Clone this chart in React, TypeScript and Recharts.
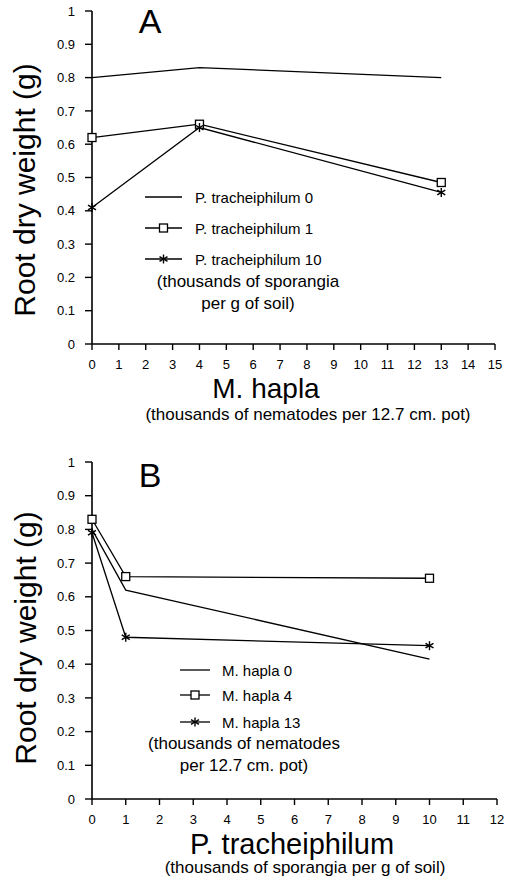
import React from 'react';
import { LineChart, Line, XAxis, YAxis, Legend, Label } from 'recharts';

// ---- Panel A data: x = M. hapla (thousands of nematodes per pot)
const mHaplaLevels = [0, 4, 13];
const ptr0 = [0.8, 0.83, 0.8];
const ptr1 = [0.62, 0.66, 0.485];
const ptr10 = [0.41, 0.65, 0.455];

// ---- Panel B data: x = P. tracheiphilum (thousands of sporangia per g soil)
const ptrLevels = [0, 1, 10];
const mh0 = [0.8, 0.62, 0.415];
const mh4 = [0.83, 0.66, 0.655];
const mh13 = [0.79, 0.48, 0.455];

const yTicks = [0, 0.1, 0.2, 0.3, 0.4, 0.5, 0.6, 0.7, 0.8, 0.9, 1];
const xTicksA = [0, 1, 2, 3, 4, 5, 6, 7, 8, 9, 10, 11, 12, 13, 14, 15];
const xTicksB = [0, 1, 2, 3, 4, 5, 6, 7, 8, 9, 10, 11, 12];

const legendA = ['P. tracheiphilum 0', 'P. tracheiphilum 1', 'P. tracheiphilum 10'];
const legendNoteA = ['(thousands of sporangia', 'per g of soil)'];
const legendB = ['M. hapla 0', 'M. hapla 4', 'M. hapla 13'];
const legendNoteB = ['(thousands of nematodes', 'per 12.7 cm. pot)'];

const dataA = mHaplaLevels.map((x, i) => ({ x, s0: ptr0[i], s1: ptr1[i], s10: ptr10[i] }));
const dataB = ptrLevels.map((x, i) => ({ x, s0: mh0[i], s4: mh4[i], s13: mh13[i] }));

const FONT = "'Liberation Sans', Arial, Helvetica, sans-serif";
const INK = '#000';

function SquareMark({ cx, cy }: { cx: number; cy: number }) {
  return <rect x={cx - 4} y={cy - 4} width={8} height={8} fill="#fff" stroke={INK} strokeWidth={1.3} />;
}
function StarMark({ cx, cy }: { cx: number; cy: number }) {
  return (
    <g stroke={INK} strokeWidth={1.4}>
      <line x1={cx} y1={cy - 4.5} x2={cx} y2={cy + 4.5} />
      <line x1={cx - 4} y1={cy - 2.3} x2={cx + 4} y2={cy + 2.3} />
      <line x1={cx - 4} y1={cy + 2.3} x2={cx + 4} y2={cy - 2.3} />
    </g>
  );
}

const squareDot = (p: any) => (
  <g key={`sq-${p.index}`}>
    <SquareMark cx={p.cx} cy={p.cy} />
  </g>
);
const starDot = (p: any) => (
  <g key={`st-${p.index}`}>
    <StarMark cx={p.cx} cy={p.cy} />
  </g>
);

type LegendSpec = {
  labels: string[];
  notes: string[];
  rowY: number[];
  x1: number;
  x2: number;
  tx: number;
  noteCx: number;
  noteY: number[];
};

function makeLegend(spec: LegendSpec) {
  return () => (
    <div style={{ position: 'relative', width: 0, height: 0, fontFamily: FONT, color: INK }}>
      {spec.labels.map((lab, i) => {
        const mid = (spec.x1 + spec.x2) / 2 - spec.x1 + 2;
        return (
          <React.Fragment key={lab}>
            <svg
              width={spec.x2 - spec.x1 + 4}
              height={16}
              style={{ position: 'absolute', left: spec.x1 - 2, top: spec.rowY[i] - 8, overflow: 'visible' }}
            >
              <line x1={2} y1={8} x2={spec.x2 - spec.x1 + 2} y2={8} stroke={INK} strokeWidth={1.3} />
              {i === 1 && <SquareMark cx={mid} cy={8} />}
              {i === 2 && <StarMark cx={mid} cy={8} />}
            </svg>
            <span
              style={{
                position: 'absolute',
                left: spec.tx,
                top: spec.rowY[i] - 7.5,
                fontSize: 15,
                lineHeight: '15px',
                whiteSpace: 'nowrap',
              }}
            >
              {lab}
            </span>
          </React.Fragment>
        );
      })}
      {spec.notes.map((n, i) => (
        <span
          key={n}
          style={{
            position: 'absolute',
            left: spec.noteCx - 150,
            width: 300,
            textAlign: 'center',
            top: spec.noteY[i] - 8.5,
            fontSize: 17,
            lineHeight: '17px',
            whiteSpace: 'nowrap',
          }}
        >
          {n}
        </span>
      ))}
    </div>
  );
}

const legendContentA = makeLegend({
  labels: legendA,
  notes: legendNoteA,
  rowY: [197, 228, 259],
  x1: 145,
  x2: 182,
  tx: 195,
  noteCx: 248,
  noteY: [281, 303],
});
const legendContentB = makeLegend({
  labels: legendB,
  notes: legendNoteB,
  rowY: [230, 255, 282],
  x1: 180,
  x2: 210,
  tx: 222,
  noteCx: 244,
  noteY: [303, 325],
});

function xTitle(title: string, tcx: number, tby: number, tfs: number, sub: string, scx: number, sby: number) {
  return () => (
    <g fontFamily={FONT} fill={INK}>
      <text x={tcx} y={tby} textAnchor="middle" fontSize={tfs}>
        {title}
      </text>
      <text x={scx} y={sby} textAnchor="middle" fontSize={17}>
        {sub}
      </text>
    </g>
  );
}

function yTitle(letter: string, lx: number, ly: number, bx: number, cy: number) {
  return () => (
    <g fontFamily={FONT} fill={INK}>
      <text x={bx} y={cy} textAnchor="middle" fontSize={30} transform={`rotate(-90, ${bx}, ${cy})`}>
        Root dry weight (g)
      </text>
      <text x={lx} y={ly} textAnchor="middle" fontSize={34}>
        {letter}
      </text>
    </g>
  );
}

const axisLineStyle = { stroke: INK, strokeWidth: 1.6 };
const tickLineStyle = { stroke: INK, strokeWidth: 1.4 };
const tickStyle = { fill: INK, fontSize: 13, fontFamily: FONT };

export default function App() {
  return (
    <div style={{ position: 'absolute', left: 0, top: 0, width: 512, height: 879, background: '#fff' }}>
      <div style={{ position: 'absolute', left: 0, top: 0 }}>
        <LineChart width={512} height={440} data={dataA} margin={{ top: 11, right: 17, left: 0, bottom: 56 }}>
          <XAxis
            type="number"
            dataKey="x"
            domain={[0, 15]}
            ticks={xTicksA}
            interval={0}
            height={40}
            tickSize={6}
            tickMargin={10}
            axisLine={axisLineStyle}
            tickLine={tickLineStyle}
            tick={tickStyle}
          >
            <Label
              content={xTitle('M. hapla', 266, 397.5, 28, '(thousands of nematodes per 12.7 cm. pot)', 308, 419.5)}
            />
          </XAxis>
          <YAxis
            type="number"
            domain={[0, 1]}
            ticks={yTicks}
            interval={0}
            width={92}
            tickSize={7}
            tickMargin={10}
            axisLine={axisLineStyle}
            tickLine={tickLineStyle}
            tick={tickStyle}
          >
            <Label content={yTitle('A', 150, 33, 35, 190)} />
          </YAxis>
          <Legend
            layout="vertical"
            align="center"
            verticalAlign="middle"
            content={legendContentA}
            wrapperStyle={{ left: 0, top: 0, width: 0, height: 0 }}
          />
          <Line dataKey="s0" stroke={INK} strokeWidth={1.3} dot={false} isAnimationActive={false} />
          <Line dataKey="s1" stroke={INK} strokeWidth={1.3} dot={squareDot} isAnimationActive={false} />
          <Line dataKey="s10" stroke={INK} strokeWidth={1.3} dot={starDot} isAnimationActive={false} />
        </LineChart>
      </div>
      <div style={{ position: 'absolute', left: 0, top: 440 }}>
        <LineChart width={512} height={439} data={dataB} margin={{ top: 22, right: 15, left: 0, bottom: 40 }}>
          <XAxis
            type="number"
            dataKey="x"
            domain={[0, 12]}
            ticks={xTicksB}
            interval={0}
            height={40}
            tickSize={6}
            tickMargin={10}
            axisLine={axisLineStyle}
            tickLine={tickLineStyle}
            tick={tickStyle}
          >
            <Label
              content={xTitle('P. tracheiphilum', 292, 414, 29, '(thousands of sporangia per g of soil)', 305, 433)}
            />
          </XAxis>
          <YAxis
            type="number"
            domain={[0, 1]}
            ticks={yTicks}
            interval={0}
            width={92}
            tickSize={7}
            tickMargin={10}
            axisLine={axisLineStyle}
            tickLine={tickLineStyle}
            tick={tickStyle}
          >
            <Label content={yTitle('B', 150, 47, 36, 198)} />
          </YAxis>
          <Legend
            layout="vertical"
            align="center"
            verticalAlign="middle"
            content={legendContentB}
            wrapperStyle={{ left: 0, top: 0, width: 0, height: 0 }}
          />
          <Line dataKey="s0" stroke={INK} strokeWidth={1.3} dot={false} isAnimationActive={false} />
          <Line dataKey="s4" stroke={INK} strokeWidth={1.3} dot={squareDot} isAnimationActive={false} />
          <Line dataKey="s13" stroke={INK} strokeWidth={1.3} dot={starDot} isAnimationActive={false} />
        </LineChart>
      </div>
    </div>
  );
}
